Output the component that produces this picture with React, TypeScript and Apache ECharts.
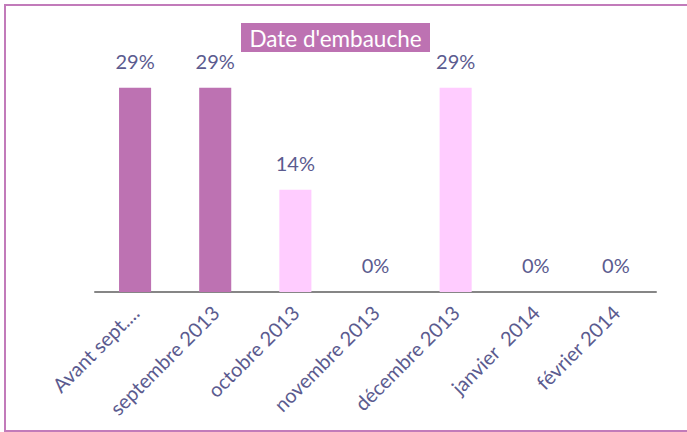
import React, { useEffect, useRef } from "react";
import * as echarts from "echarts";

const categories = [
  "Avant sept....",
  "septembre 2013",
  "octobre 2013",
  "novembre 2013",
  "décembre 2013",
  "janvier  2014",
  "février 2014",
];
const values = [28.57, 28.57, 14.29, 0, 28.57, 0, 0];
const barColors = ["#BD72B2", "#BD72B2", "#FFCCFF", "#FFCCFF", "#FFCCFF", "#FFCCFF", "#FFCCFF"];
const titleText = "Date d'embauche";

const FONT = "Lato, 'Open Sans', sans-serif";

export default function App() {
  const ref = useRef<HTMLDivElement>(null);
  useEffect(() => {
    document.body.style.margin = "0";
    const chart = echarts.init(ref.current!, undefined, { renderer: "svg" });
    chart.setOption({
      animation: false,
      backgroundColor: "#FFFFFF",
      grid: { left: 95, right: 31, top: 6, bottom: 140, containLabel: false },
      xAxis: {
        type: "category",
        data: categories,
        axisLine: { lineStyle: { color: "#868686", width: 2 } },
        axisTick: { show: false },
        axisLabel: {
          interval: 0,
          rotate: 45,
          margin: 17,
          color: "#5B5B8F",
          fontFamily: FONT,
          fontSize: 20,
        },
      },
      yAxis: {
        type: "value",
        min: 0,
        max: 40,
        show: false,
        splitLine: { show: false },
      },
      series: [
        {
          type: "bar",
          barWidth: "40%",
          data: values.map((v, i) => ({ value: v, itemStyle: { color: barColors[i] } })),
          label: {
            show: true,
            position: "top",
            distance: 17,
            color: "#5B5B8F",
            fontFamily: FONT,
            fontSize: 20,
            formatter: (p: any) => Math.round(p.value) + "%",
          },
        },
      ],
      graphic: [
        {
          type: "rect",
          shape: { x: 5, y: 5, width: 700, height: 426 },
          style: { fill: "none", stroke: "#C27BBA", lineWidth: 2 },
          silent: true,
          z: -1,
        },
        {
          type: "rect",
          shape: { x: 241, y: 23, width: 189, height: 29 },
          style: { fill: "#BD72B2" },
          z: 10,
        },
        {
          type: "text",
          x: 335.5,
          y: 38,
          style: {
            text: titleText,
            fill: "#FFFFFF",
            font: "22.5px " + FONT,
            align: "center",
            verticalAlign: "middle",
          },
          z: 11,
        },
      ],
    });
    return () => chart.dispose();
  }, []);
  return <div ref={ref} style={{ width: 687, height: 432 }} />;
}
